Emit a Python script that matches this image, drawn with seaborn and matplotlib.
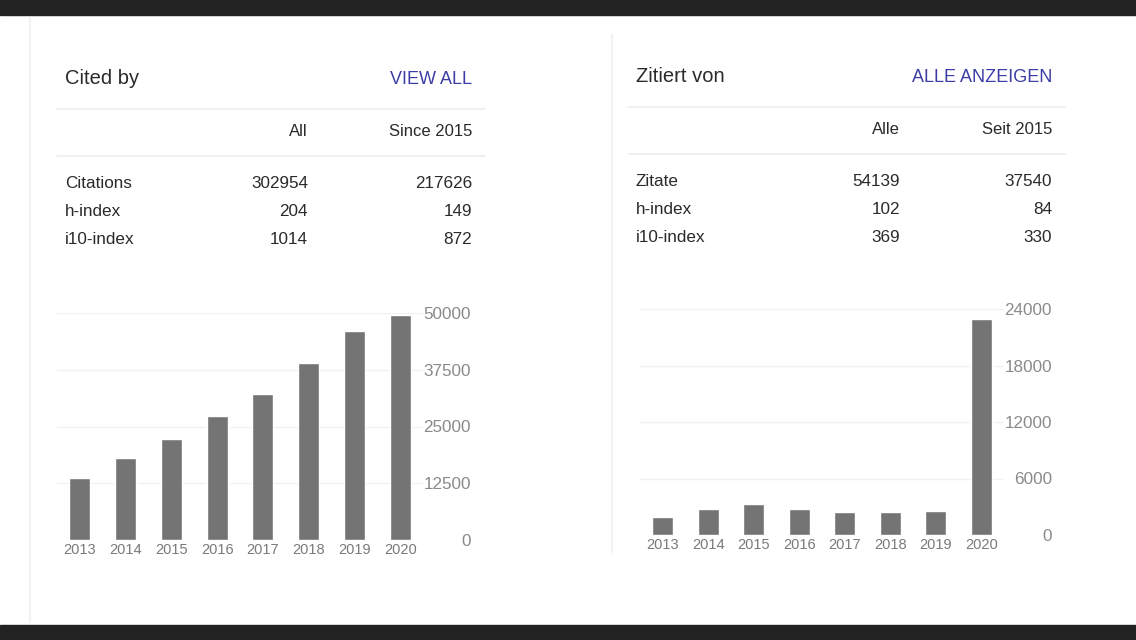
import matplotlib
matplotlib.use("Agg")
import matplotlib.pyplot as plt
import seaborn as sns
from matplotlib.lines import Line2D
from matplotlib.patches import Rectangle

# data
years = ["2013", "2014", "2015", "2016", "2017", "2018", "2019", "2020"]
cited_by_per_year = [13600, 18100, 22200, 27400, 32200, 38900, 46000, 49600]
zitiert_pro_jahr = [1900, 2800, 3300, 2800, 2400, 2400, 2550, 22900]

left_ticks = [0, 12500, 25000, 37500, 50000]
right_ticks = [0, 6000, 12000, 18000, 24000]

left_header = ["Cited by", "VIEW ALL", "All", "Since 2015"]
left_rows = ["Citations", "h-index", "i10-index"]
left_all = ["302954", "204", "1014"]
left_since = ["217626", "149", "872"]

right_header = ["Zitiert von", "ALLE ANZEIGEN", "Alle", "Seit 2015"]
right_rows = ["Zitate", "h-index", "i10-index"]
right_all = ["54139", "102", "369"]
right_since = ["37540", "84", "330"]

sns.set_theme(style="white")
plt.rcParams["font.family"] = ["Liberation Sans", "DejaVu Sans"]

W, H = 1136, 640
fig = plt.figure(figsize=(W / 100, H / 100), dpi=100)
fig.patch.set_facecolor("white")


def fx(x):
    return x / W


def fy(y):
    return 1 - y / H


def txt(x, y, s, ha="left", size=12.5, color="#2a2a2a"):
    fig.text(fx(x), fy(y), s, ha=ha, va="center", fontsize=size, color=color)


def hline(x0, x1, y, color="#ededed", lw=1.2):
    fig.add_artist(Line2D([fx(x0), fx(x1)], [fy(y), fy(y)], color=color, lw=lw))


def vline(x, y0, y1, color="#f2f2f2", lw=1.5):
    fig.add_artist(Line2D([fx(x), fx(x)], [fy(y0), fy(y1)], color=color, lw=lw))


# faint card borders
vline(30, 18, 622)
vline(612, 35, 552)

# dark bands top and bottom
fig.add_artist(Rectangle((0, fy(15)), 1, 15 / H, color="#222222", transform=fig.transFigure))
fig.add_artist(Rectangle((0, 0), 1, 15 / H, color="#222222", transform=fig.transFigure))


def card(x_left, x_mid, x_right, y_title, y_sep, y_head, y_rows, header, rows, col_all, col_since, sep_x):
    txt(x_left, y_title, header[0], size=14.5)
    txt(x_right, y_title + 1, header[1], ha="right", size=13, color="#3d3da6")
    hline(sep_x[0], sep_x[1], y_sep[0])
    txt(x_mid, y_head, header[2], ha="right", size=12)
    txt(x_right, y_head, header[3], ha="right", size=12)
    hline(sep_x[0], sep_x[1], y_sep[1])
    for i, name in enumerate(rows):
        y = y_rows[0] + i * 28
        txt(x_left, y, name, size=12.3)
        txt(x_mid, y, col_all[i], ha="right", size=12.3)
        txt(x_right, y, col_since[i], ha="right", size=12.3)


card(65, 308, 472, 78, [109, 156], 131, [183], left_header, left_rows, left_all, left_since, [57, 485])
card(636, 900, 1052, 77, [107, 154], 130, [181], right_header, right_rows, right_all, right_since, [628, 1065])


def bar_chart(rect, values, ticks, pad_px):
    ax = fig.add_axes(rect)
    sns.barplot(x=years, y=values, color="#747474", saturation=1, width=0.46, ax=ax)
    ax.set_xlim(-0.5, 7.5)
    ax.set_ylim(ticks[0], ticks[-1])
    ax.set_xlabel("")
    ax.set_ylabel("")
    ax.yaxis.tick_right()
    ax.set_yticks(ticks)
    ax.set_yticklabels([str(t) for t in ticks], ha="right", fontsize=12.3, color="#8a8a8a")
    ax.tick_params(axis="y", length=0, pad=pad_px * 0.72)
    ax.tick_params(axis="x", length=0, pad=2.5, labelsize=10.5, labelcolor="#7a7a7a")
    for t in ticks[1:]:
        ax.axhline(t, color="#f1f1f1", lw=1, zorder=0)
    for s in ax.spines.values():
        s.set_visible(False)
    ax.patch.set_alpha(0)
    return ax


bar_chart([fx(57), fy(540), (423 - 57) / W, (540 - 313) / H], cited_by_per_year, left_ticks, 48)
bar_chart([fx(640), fy(535), (1004 - 640) / W, (535 - 309) / H], zitiert_pro_jahr, right_ticks, 48)

fig.savefig("out.png", dpi=100, facecolor="white")
